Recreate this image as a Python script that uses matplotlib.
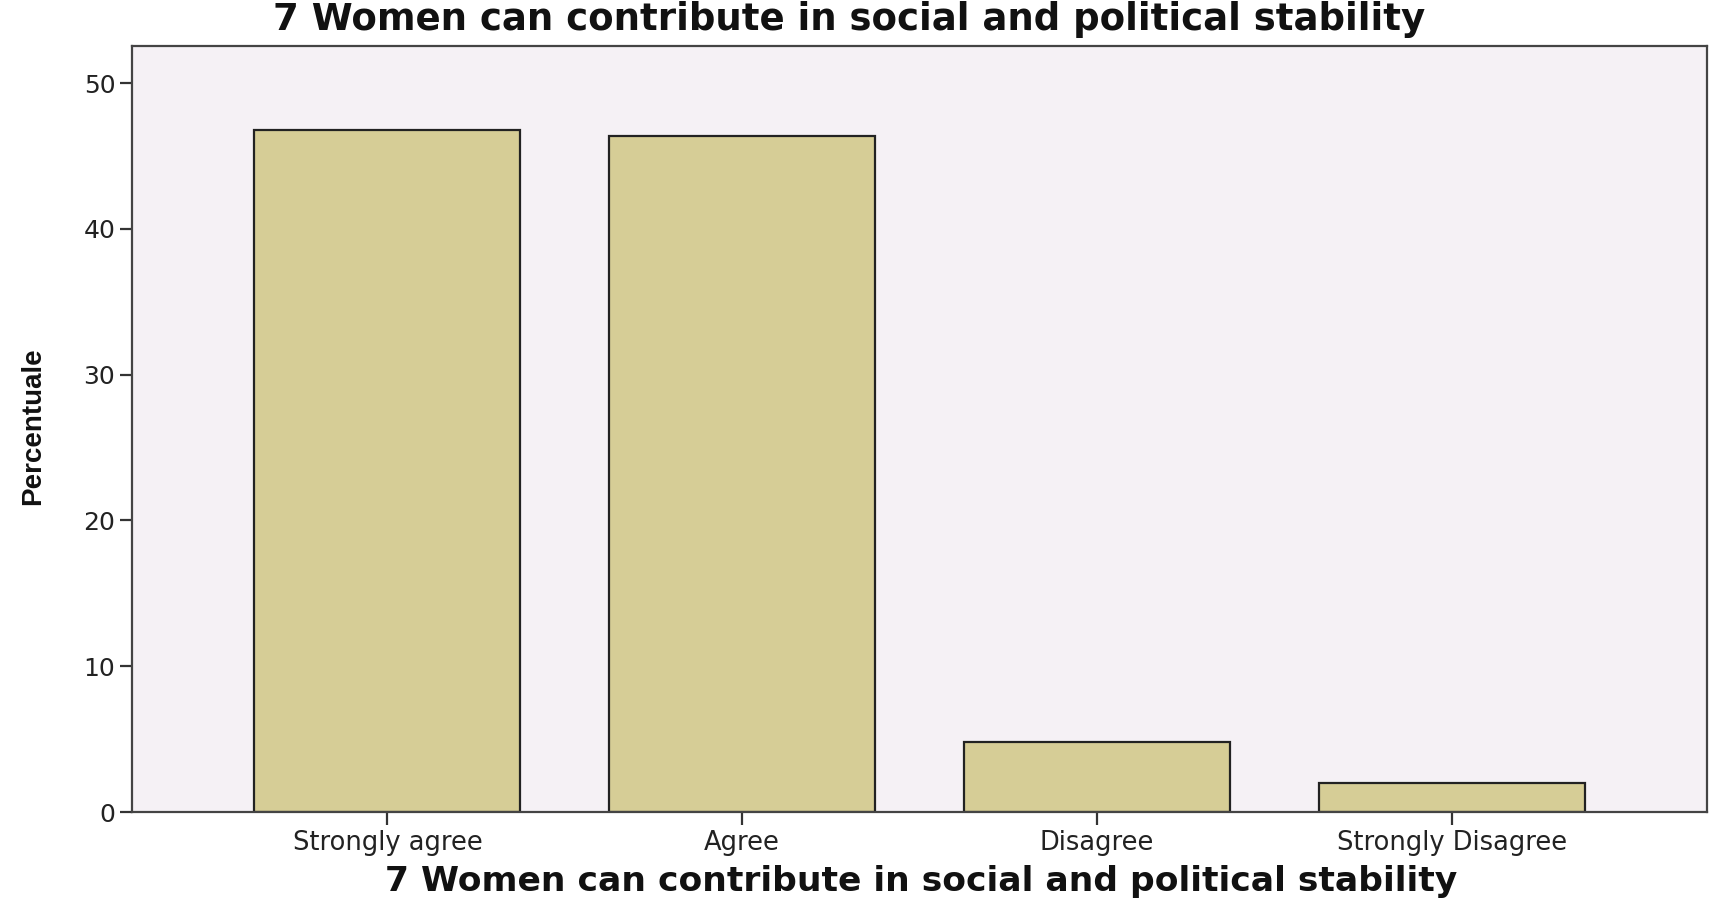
import matplotlib
matplotlib.use("Agg")
import matplotlib.pyplot as plt

categories = ["Strongly agree", "Agree", "Disagree", "Strongly Disagree"]
values = [46.8, 46.4, 4.8, 2.0]
yticks = [0, 10, 20, 30, 40, 50]
title = "7 Women can contribute in social and political stability"
ylabel = "Percentuale"

plt.rcParams['font.family'] = ['DejaVu Sans']

fig = plt.figure(figsize=(17.14, 9.0), dpi=100)
W, H = 1714, 900
left, right, top, bottom = 132, 1707, 46, 812
ax = fig.add_axes([left / W, 1 - bottom / H, (right - left) / W, (bottom - top) / H])
ax.set_facecolor("#F5F1F5")

x = list(range(len(categories)))
ax.bar(x, values, width=0.75, color="#D6CD96", edgecolor="#222222", linewidth=1.6, zorder=2)

ax.set_xlim(-0.72, 3.72)
ax.set_ylim(0, 52.55)
ax.set_yticks(yticks)
ax.set_yticklabels([str(t) for t in yticks], fontsize=18, color="#222222")
ax.set_xticks(x)
ax.set_xticklabels(categories, fontsize=18.5, color="#222222")
ax.tick_params(axis='both', direction='out', length=9, width=1.6, color="#333333")
ax.tick_params(axis='x', pad=4)
ax.tick_params(axis='y', pad=3)
for s in ax.spines.values():
    s.set_color("#444444")
    s.set_linewidth(1.6)

ax.set_xlabel(title, fontsize=24.8, fontweight='bold', color="#111111", va='center')
ax.xaxis.set_label_coords((921 - left) / (right - left), -(882 - bottom) / (bottom - top))
fig.text(33 / W, 1 - 426 / H, ylabel, rotation=90, ha='center', va='center',
         fontsize=20, fontweight='bold', family=['Liberation Sans Narrow', 'Liberation Sans', 'DejaVu Sans'],
         color="#111111")
fig.text(849 / W, 1 - 20 / H, title, ha='center', va='center', fontsize=26.7,
         fontweight='bold', color="#111111")

fig.savefig("out.png", dpi=100, facecolor="white")
